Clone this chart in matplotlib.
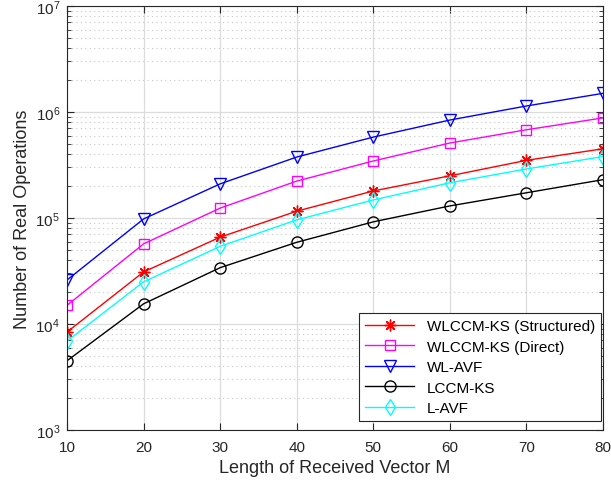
import matplotlib
matplotlib.use("Agg")
import matplotlib.pyplot as plt
from matplotlib.ticker import LogLocator, NullFormatter

plt.rcParams['font.family'] = ['Liberation Sans', 'DejaVu Sans']
plt.rcParams['mathtext.fontset'] = 'custom'
plt.rcParams['mathtext.rm'] = 'Liberation Sans'

M = [10, 20, 30, 40, 50, 60, 70, 80]
wlccm_struct = [8.4e3, 3.1e4, 6.6e4, 1.16e5, 1.8e5, 2.5e5, 3.5e5, 4.5e5]
wlccm_direct = [1.5e4, 5.7e4, 1.24e5, 2.23e5, 3.45e5, 5.1e5, 6.8e5, 8.8e5]
wl_avf = [2.6e4, 9.8e4, 2.1e5, 3.76e5, 5.8e5, 8.4e5, 1.14e6, 1.5e6]
lccm_ks = [4.5e3, 1.55e4, 3.4e4, 5.9e4, 9.2e4, 1.3e5, 1.73e5, 2.3e5]
l_avf = [6.9e3, 2.5e4, 5.4e4, 9.6e4, 1.48e5, 2.15e5, 2.9e5, 3.8e5]

labels = ['WLCCM-KS (Structured)', 'WLCCM-KS (Direct)', 'WL-AVF', 'LCCM-KS', 'L-AVF']

fig = plt.figure(figsize=(6.11, 4.89), dpi=100)
ax = fig.add_axes([0.1097, 0.1186, 0.8773, 0.8671])

ms = 8.5
ax.plot(M, wlccm_struct, color='red', marker=(8, 2, 0), ms=ms, mew=1.0, lw=1, label=labels[0])
ax.plot(M, wlccm_direct, color='magenta', marker='s', ms=ms - 1.5, mfc='none', lw=1, label=labels[1])
ax.plot(M, wl_avf, color='blue', marker='v', ms=ms, mfc='none', lw=1, label=labels[2])
ax.plot(M, lccm_ks, color='black', marker='o', ms=ms - 0.5, mfc='none', lw=1, label=labels[3])
ax.plot(M, l_avf, color='cyan', marker='d', ms=ms, mfc='none', lw=1, label=labels[4])

ax.set_yscale('log')
ax.set_xlim(10, 80)
ax.set_ylim(1e3, 1e7)
ax.set_xticks(M)
ax.yaxis.set_major_locator(LogLocator(base=10, numticks=10))
ax.yaxis.set_minor_locator(LogLocator(base=10, subs=range(2, 10), numticks=20))
ax.yaxis.set_minor_formatter(NullFormatter())

ax.grid(True, which='major', color='#dcdcdc', lw=0.9, ls='-')
ax.grid(True, which='minor', axis='y', color='#c8c8c8', lw=0.8, ls=(0, (1, 3)))
ax.set_axisbelow(True)

ax.tick_params(which='both', direction='in', top=True, right=True, labelsize=11, colors='#262626')
ax.tick_params(which='major', length=5)
ax.tick_params(which='minor', length=3)
ax.tick_params(axis='x', which='major', pad=7)
ax.tick_params(axis='y', which='major', pad=5)
for s in ax.spines.values():
    s.set_color('#262626')
    s.set_linewidth(0.8)

ax.set_xlabel('Length of Received Vector M', fontsize=13, color='#262626', labelpad=4)
ax.set_ylabel('Number of Real Operations', fontsize=13, color='#262626', labelpad=3)

leg = ax.legend(loc='lower right', bbox_to_anchor=(0.996, 0.021), borderaxespad=0,
                fontsize=11, fancybox=False, framealpha=1, edgecolor='#262626',
                handlelength=3.2, labelspacing=0.42, borderpad=0.4)
leg.get_frame().set_linewidth(0.8)

fig.savefig('out.png', dpi=100)
